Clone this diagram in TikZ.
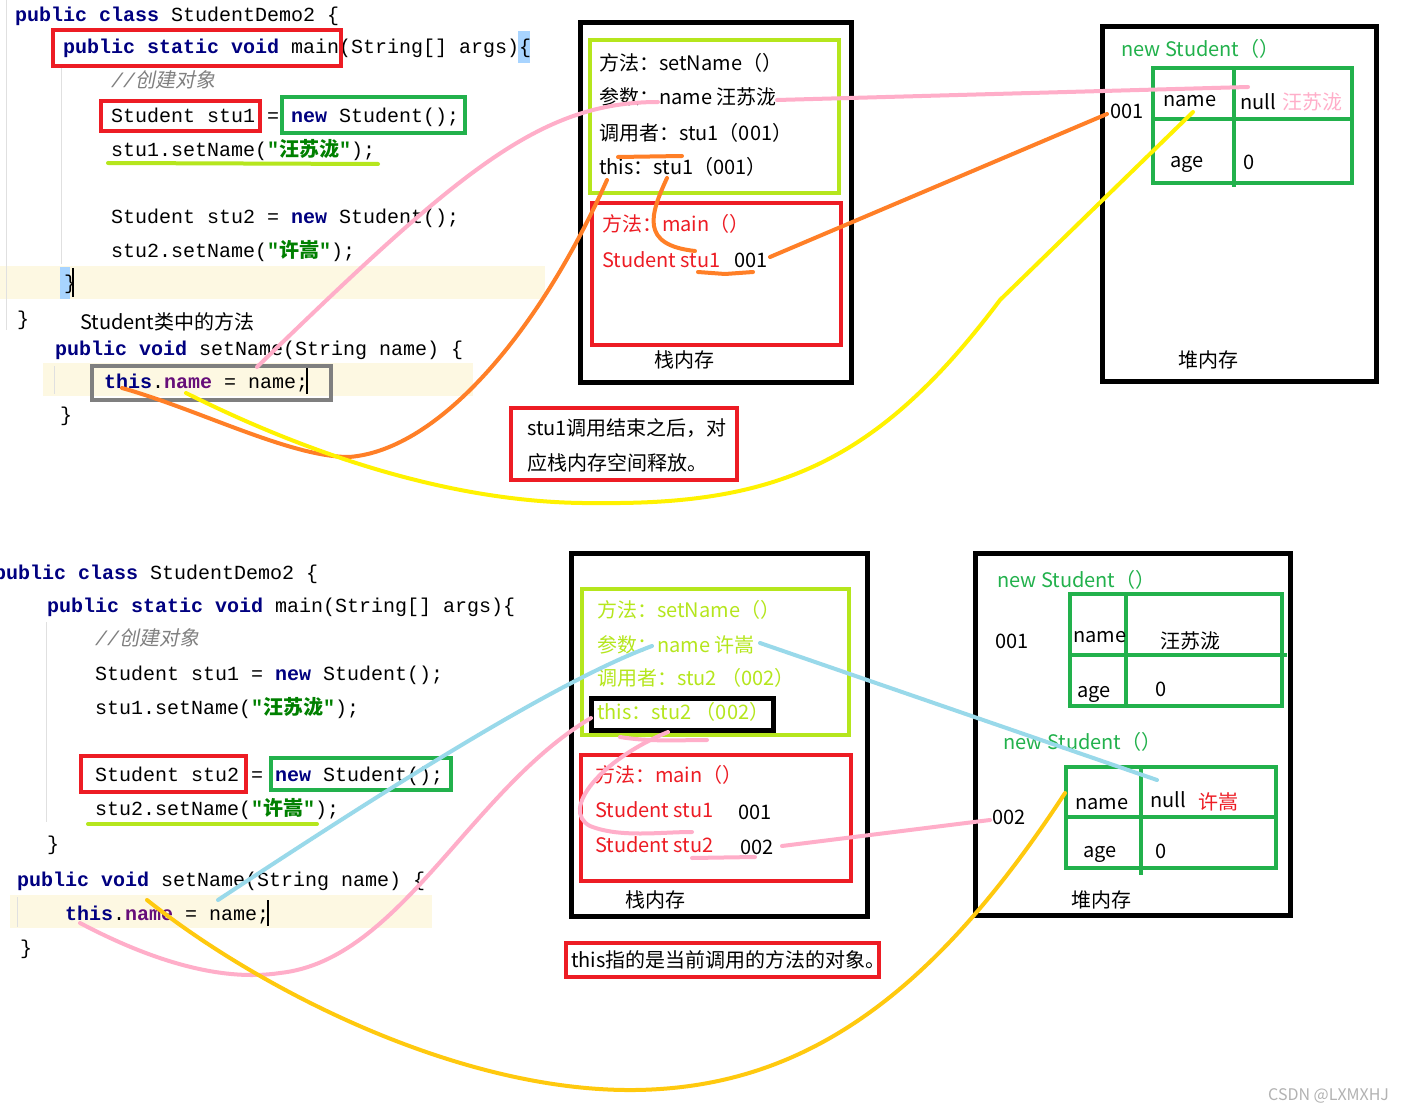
\documentclass[tikz,border=0pt]{standalone}
\usepackage{fontspec}
\setmainfont{Noto Sans CJK SC}
\setmonofont{Liberation Mono}
\newfontfamily\cjk{Noto Sans CJK SC}
\newfontfamily\cjkit[FakeSlant=0.2]{Noto Sans CJK SC}
\usepackage{xcolor}
\usetikzlibrary{positioning}

\definecolor{kwblue}{HTML}{000080}
\definecolor{fldpurple}{HTML}{660E7A}
\definecolor{strgreen}{HTML}{008000}
\definecolor{cmtgray}{HTML}{808080}
\definecolor{hlyellow}{HTML}{FDF8E2}
\definecolor{bracehl}{HTML}{A8D4FF}
\definecolor{boxred}{HTML}{ED1C24}
\definecolor{boxgreen}{HTML}{22B14C}
\definecolor{boxlime}{HTML}{B5E61D}
\definecolor{boxgray}{HTML}{7F7F7F}
\definecolor{penpink}{HTML}{FFAEC9}
\definecolor{penorange}{HTML}{FF7F27}
\definecolor{penyellow}{HTML}{FFF200}
\definecolor{pengold}{HTML}{FFC90E}
\definecolor{penblue}{HTML}{99D9EA}

\newcommand\codefont{\ttfamily\fontsize{20}{24}\selectfont}
\newcommand\txtfont{\fontsize{20}{24}\selectfont}
\newcommand\zh[1]{{\cjk #1}}
\newcommand\jkw[1]{\textcolor{kwblue}{\bfseries #1}}
\newcommand\jfld[1]{\textcolor{fldpurple}{\bfseries #1}}
\newcommand\jstr[1]{\textcolor{strgreen}{\bfseries #1}}
\newcommand\jcmt[1]{\textcolor{cmtgray}{\itshape #1}}

\tikzset{
  code/.style={anchor=base west, inner sep=0pt, font=\codefont},
  txt/.style={anchor=base west, inner sep=0pt, font=\txtfont},
  memframe/.style={draw=black, line width=5pt},
  redbox/.style={draw=boxred, line width=4pt},
  greenbox/.style={draw=boxgreen, line width=4pt},
  limebox/.style={draw=boxlime, line width=4pt},
  guide/.style={draw=black!12, line width=1pt},
  pen/.style={line width=4pt, line cap=round, line join=round},
}

\begin{document}
\begin{tikzpicture}[x=1pt, y=-1pt]
    \useasboundingbox (0,0) rectangle (1422,1110);
    \fill[white] (0,0) rectangle (1422,1110);

    % ---------- upper half: code ----------
    \fill[hlyellow] (0,266) rectangle (545,299);
    \fill[hlyellow] (43,363) rectangle (473,396);
    \draw[guide] (6,0) -- (6,330);
    \draw[guide] (61,68) -- (61,264);
    \draw[guide] (54,366) -- (54,394);
    \fill[bracehl] (518,31) rectangle (530,63);
    \fill[bracehl] (60,267) rectangle (70,299);
    \draw[line width=1.5pt] (73,268) -- (73,297);

    \node[code] (uA) at (15,22) {\jkw{public} \jkw{class} StudentDemo2 \{};
    \node[code] (uB) at (63,54) {\jkw{public} \jkw{static} \jkw{void} main(String[] args)\{};
    \node[code] (uC) at (111,88) {\jcmt{//{\cjkit 创建对象}}};
    \node[code] (uD) at (111,123) {Student stu1 = \jkw{new} Student();};
    \node[code] (uE) at (111,157) {stu1.setName(\jstr{"\zh{汪苏泷}"});};
    \node[code] (uF) at (111,224) {Student stu2 = \jkw{new} Student();};
    \node[code] (uG) at (111,258) {stu2.setName(\jstr{"\zh{许嵩}"});};
    \node[code] (uH) at (64,290) {\}};
    \node[code] (uI) at (17,325) {\}};
    \node[txt] (uJ) at (80,329) {Student类中的方法};
    \node[code] (uK) at (55,355) {\jkw{public} \jkw{void} setName(String name) \{};
    \node[code] (uL) at (104,388) {\jkw{this}.\jfld{name} = name;};
    \draw[line width=1.5pt] (307,368) -- (307,394);
    \node[code] (uM) at (60,421) {\}};

    \draw[redbox] (53,30) rectangle (341,66);
    \draw[redbox] (101,101) rectangle (260,131);
    \draw[greenbox] (282,97) rectangle (465,133);
    \draw[draw=boxgray, line width=4pt] (92,366) rectangle (331,400);
    \draw[pen, boxlime] (108,163) -- (378,164);

    % ---------- upper half: stack ----------
    \draw[memframe] (580,23) rectangle (851,382);
    \draw[limebox] (590,40) rectangle (839,193);
    \draw[redbox] (592,203) rectangle (841,345);
    \node[txt] (s1) at (599,71) {方法：setName（）};
    \node[txt] (s2) at (599,105) {参数：name 汪苏泷};
    \node[txt] (s3) at (599,141) {调用者：stu1（001）};
    \node[txt] (s4) at (599,175) {this：stu1（001）};
    \node[txt, text=boxred] (s5) at (602,232) {方法：main（）};
    \node[txt, text=boxred] (s6) at (602,267) {Student stu1};
    \node[txt] (s7) at (734,267) {001};
    \node[txt] (s8) at (654,367) {栈内存};

    % ---------- upper half: heap ----------
    \draw[memframe] (1102,27) rectangle (1376,381);
    \node[txt, text=boxgreen] (h1) at (1121,57) {new Student（）};
    \draw[greenbox] (1153,68) rectangle (1352,183);
    \draw[greenbox] (1234,68) -- (1234,187);
    \draw[greenbox] (1153,119) -- (1352,119);
    \node[txt] (h2) at (1163,107) {name};
    \node[txt] (h3) at (1240,110) {null};
    \node[txt, text=penpink] (h4) at (1282,110) {汪苏泷};
    \node[txt] (h5) at (1170,168) {age};
    \node[txt] (h6) at (1243,170) {0};
    \node[txt] (h7) at (1110,119) {001};
    \node[txt] (h8) at (1178,367) {堆内存};

    % note
    \draw[redbox] (511,408) rectangle (737,480);
    \node[txt] (n1) at (527,435) {stu1调用结束之后，对};
    \node[txt] (n2) at (527,470) {应栈内存空间释放。};

    % ---------- upper half: pen strokes ----------
    \coordinate (pkA) at (257,367);
    \coordinate (pkB) at (658,102);
    \coordinate (pkC) at (777,100);
    \coordinate (pkD) at (1248,87);
    \draw[pen, penpink] (pkA) .. controls (460,170) and (540,102) .. (pkB);
    \draw[pen, penpink] (pkC) -- (pkD);

    \coordinate (orA) at (122,388);
    \coordinate (orB) at (349,457);
    \coordinate (orC) at (607,180);
    \draw[pen, penorange] (orA) .. controls (200,410) and (290,457) .. (orB)
        .. controls (440,450) and (540,330) .. (orC);
    \coordinate (orD) at (667,178);
    \coordinate (orE) at (695,251);
    \draw[pen, penorange] (orD) .. controls (650,215) and (640,245) .. (orE);
    \draw[pen, penorange] (618,157) -- (682,156);
    \draw[pen, penorange] (698,272) -- (725,274) -- (753,272);
    \coordinate (orF) at (770,257);
    \coordinate (orG) at (1107,114);
    \draw[pen, penorange] (orF) -- (orG);

    \coordinate (ylA) at (186,393);
    \coordinate (ylB) at (598,503);
    \coordinate (ylC) at (1000,300);
    \coordinate (ylD) at (1193,112);
    \draw[pen, penyellow] (ylA) .. controls (300,450) and (450,505) .. (ylB)
        .. controls (780,505) and (880,460) .. (ylC) -- (ylD);

    % ---------- lower half: code ----------
    \fill[hlyellow] (10,895) rectangle (432,928);
    \draw[guide] (46,622) -- (46,822);
    \draw[guide] (17,897) -- (17,927);

    \node[code] (lA) at (-6,579) {\jkw{public} \jkw{class} StudentDemo2 \{};
    \node[code] (lB) at (47,612) {\jkw{public} \jkw{static} \jkw{void} main(String[] args)\{};
    \node[code] (lC) at (95,645) {\jcmt{//{\cjkit 创建对象}}};
    \node[code] (lD) at (95,680) {Student stu1 = \jkw{new} Student();};
    \node[code] (lE) at (95,714) {stu1.setName(\jstr{"\zh{汪苏泷}"});};
    \node[code] (lF) at (95,781) {Student stu2 = \jkw{new} Student();};
    \node[code] (lG) at (95,815) {stu2.setName(\jstr{"\zh{许嵩}"});};
    \node[code] (lH) at (47,850) {\}};
    \node[code] (lI) at (17,886) {\jkw{public} \jkw{void} setName(String name) \{};
    \node[code] (lJ) at (65,920) {\jkw{this}.\jfld{name} = name;};
    \draw[line width=1.5pt] (268,900) -- (268,926);
    \node[code] (lK) at (20,954) {\}};

    \draw[redbox] (81,756) rectangle (246,792);
    \draw[greenbox] (271,758) rectangle (451,790);
    \draw[pen, boxlime] (88,824) -- (317,824);

    % ---------- lower half: stack ----------
    \draw[memframe] (571,553) rectangle (867,916);
    \draw[limebox] (582,589) rectangle (849,735);
    \draw[redbox] (581,755) rectangle (851,881);
    \node[txt, text=boxlime] (t1) at (597,617) {方法：setName（）};
    \node[txt, text=boxlime] (t2) at (597,652) {参数：name 许嵩};
    \node[txt, text=boxlime] (t3) at (597,685) {调用者：stu2 （002）};
    \node[txt, text=boxlime] (t4) at (597,719) {this：stu2 （002）};
    \draw[memframe] (591,698) rectangle (773,730);
    \node[txt, text=boxred] (t5) at (595,782) {方法：main（）};
    \node[txt, text=boxred] (t6) at (595,817) {Student stu1};
    \node[txt] (t7) at (738,819) {001};
    \node[txt, text=boxred] (t8) at (595,852) {Student stu2};
    \node[txt] (t9) at (740,854) {002};
    \node[txt] (t10) at (625,907) {栈内存};

    % ---------- lower half: heap ----------
    \draw[memframe] (975,553) rectangle (1290,915);
    \node[txt, text=boxgreen] (k1) at (997,587) {new Student（）};
    \node[txt] (k2) at (995,648) {001};
    \draw[greenbox] (1070,594) rectangle (1282,706);
    \draw[greenbox] (1126,594) -- (1126,706);
    \draw[greenbox] (1070,655) -- (1287,655);
    \node[txt] (k3) at (1073,642) {name};
    \node[txt] (k4) at (1160,648) {汪苏泷};
    \node[txt] (k5) at (1077,697) {age};
    \node[txt] (k6) at (1155,696) {0};
    \node[txt, text=boxgreen] (k7) at (1003,749) {new Student（）};
    \draw[greenbox] (1066,767) rectangle (1276,868);
    \draw[greenbox] (1141,767) -- (1141,875);
    \draw[greenbox] (1066,817) -- (1276,817);
    \node[txt] (k8) at (1075,809) {name};
    \node[txt] (k9) at (1150,807) {null};
    \node[txt, text=boxred] (k10) at (1198,809) {许嵩};
    \node[txt] (k11) at (1083,857) {age};
    \node[txt] (k12) at (1155,858) {0};
    \node[txt] (k13) at (992,824) {002};
    \node[txt] (k14) at (1071,907) {堆内存};

    % note
    \draw[redbox] (566,943) rectangle (879,977);
    \node[txt] (n3) at (571,967) {this指的是当前调用的方法的对象。};

    % ---------- lower half: pen strokes ----------
    \coordinate (blA) at (218,900);
    \coordinate (blB) at (652,646);
    \coordinate (blC) at (760,643);
    \coordinate (blD) at (1157,780);
    \draw[pen, penblue] (blA) .. controls (400,780) and (560,680) .. (blB);
    \draw[pen, penblue] (blC) -- (blD);

    \coordinate (pnA) at (80,923);
    \coordinate (pnB) at (280,973);
    \coordinate (pnC) at (591,718);
    \draw[pen, penpink] (pnA) .. controls (150,960) and (220,982) .. (pnB)
        .. controls (400,960) and (470,790) .. (pnC);
    \coordinate (pnD) at (668,732);
    \coordinate (pnE) at (590,826);
    \coordinate (pnF) at (692,832);
    \draw[pen, penpink] (pnD) .. controls (600,760) and (560,810) .. (pnE)
        .. controls (620,838) and (660,832) .. (pnF);
    \draw[pen, penpink] (620,737) .. controls (650,742) and (680,740) .. (707,740);
    \draw[pen, penpink] (692,858) -- (755,857);
    \coordinate (pnG) at (782,846);
    \coordinate (pnH) at (990,820);
    \draw[pen, penpink] (pnG) -- (pnH);

    \coordinate (gdA) at (147,900);
    \coordinate (gdB) at (635,1090);
    \coordinate (gdC) at (1065,793);
    \draw[pen, pengold] (gdA) .. controls (260,990) and (460,1092) .. (gdB)
        .. controls (800,1088) and (930,1000) .. (gdC);

    % watermark
    \node[anchor=base west, inner sep=0pt, text=black!30, font=\fontsize{16}{18}\selectfont] (wm) at (1268,1100) {CSDN @LXMXHJ};
\end{tikzpicture}
\end{document}
